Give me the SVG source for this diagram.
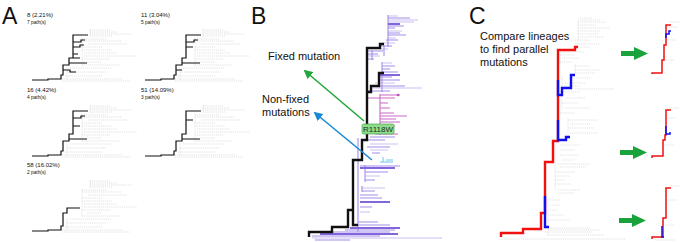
<svg xmlns="http://www.w3.org/2000/svg" xmlns:xlink="http://www.w3.org/1999/xlink" width="685" height="242" viewBox="0 0 685 242">
<style>
text{font-family:"Liberation Sans",Arial,sans-serif;fill:#111}
.big{font-size:23px}
.lab{font-size:6px}
.sub{font-size:4.8px}
.cap{font-size:11px}
.gd{fill:none;stroke:#d4d4d4;stroke-width:0.7;stroke-dasharray:1.2 0.9}
.gv{fill:none;stroke:#dedede;stroke-width:0.5}
.blk{fill:none;stroke:#111;stroke-width:1.2;stroke-linejoin:miter}
.bb{fill:none;stroke:#111;stroke-width:2.4;stroke-linejoin:miter}
.p{fill:none;stroke:#a48ce8;stroke-width:1.1}
.lp{fill:none;stroke:#cdbff3;stroke-width:1.1}
.dp{fill:none;stroke:#8466dc;stroke-width:1.8}
.m{fill:none;stroke:#c76ac6;stroke-width:1.1}
.red{fill:none;stroke:#f01010;stroke-width:2.4;stroke-linejoin:miter}
.blue{fill:none;stroke:#1010ee;stroke-width:2.4;stroke-linejoin:miter}
.sred{fill:none;stroke:#f01010;stroke-width:1.5}
.sblue{fill:none;stroke:#1010ee;stroke-width:1.5}
.garrow{fill:#1aa33a}
</style>
<defs>
<marker id="hg" viewBox="0 0 10 10" refX="8" refY="5" markerWidth="9" markerHeight="9" markerUnits="userSpaceOnUse" orient="auto"><path d="M0,0L10,5L0,10z" fill="#22a83c"/></marker>
<marker id="hb" viewBox="0 0 10 10" refX="8" refY="5" markerWidth="9" markerHeight="9" markerUnits="userSpaceOnUse" orient="auto"><path d="M0,0L10,5L0,10z" fill="#1b8ad6"/></marker>
<g id="treeA">
<path class="gd" d="M58,-50H78M58,-48H85M58,-46H100M58,-44H80M50,-41H75M50,-39H90M56,-36H95M50,-33H70M50,-30H80M52,-27H85M52,-24H105M50,-21H78M55,-18H70M50,-15H88M38,-12H80M35,-8H75M33,-4H70M30,-1H90M30,1H98"/>
<path class="gv" d="M58,-51V-43M50,-42V-14M35,-13V0"/>
</g>
</defs>

<g id="panelA">
<text class="big" x="2" y="24">A</text>
<g id="treeA1">
<text class="lab" x="27" y="17">8 (2.21%)</text>
<text class="sub" x="27" y="24">7 path(s)</text>
<use xlink:href="#treeA" transform="translate(32,80)"/>
<path class="blk" transform="translate(32,80)" d="M0,0H16V-1H29V-5H31V-15H37V-22H41V-45H56M41,-38H49V-40H53M41,-33H48V-35H52M41,-26H46M37,-22H48M37,-17H55M31,-10H38V-8H44"/>
</g>
<g id="treeA2">
<text class="lab" x="141" y="17">11 (3.04%)</text>
<text class="sub" x="141" y="24">5 path(s)</text>
<use xlink:href="#treeA" transform="translate(145,80)"/>
<path class="blk" transform="translate(145,80)" d="M0,0H16V-1H29V-5H31V-15H37V-22H41V-45H56M41,-38H49V-40H53M41,-33H48M37,-17H55M31,-10H37"/>
</g>
<g id="treeA3">
<text class="lab" x="27" y="92">16 (4.42%)</text>
<text class="sub" x="27" y="99">4 path(s)</text>
<use xlink:href="#treeA" transform="translate(32,156)"/>
<path class="blk" transform="translate(32,156)" d="M0,0H16V-1H29V-5H31V-15H37V-22H41V-45H56M41,-38H49V-40H53M37,-17H55M41,-30H48"/>
</g>
<g id="treeA4">
<text class="lab" x="141" y="92">51 (14.09%)</text>
<text class="sub" x="141" y="99">3 path(s)</text>
<use xlink:href="#treeA" transform="translate(145,156)"/>
<path class="blk" transform="translate(145,156)" d="M0,0H16V-1H29V-5H31V-15H37V-22H41V-45H56M41,-36H48M37,-17H55"/>
</g>
<g id="treeA5">
<text class="lab" x="27" y="167">58 (16.02%)</text>
<text class="sub" x="27" y="174">2 path(s)</text>
<use xlink:href="#treeA" transform="translate(32,231)"/>
<path class="blk" transform="translate(32,231)" d="M0,0H16V-1H29V-5H31V-18H35V-23H48"/>
</g>
</g>

<g id="panelB">
<text class="big" x="251" y="24">B</text>
<g id="treeB">
<path class="lp" d="M388,16H398M388,20H418M388,22H414M388,31H402M388,38H396M383,43H395M380,49H388M367,56H380M382,63H392M371,88H422M375,83H395M370,144H398M370,150H388M365,176H380M362,188H385M360,212H370M312,238H442"/>
<path class="p" d="M388,18H410M388,26H404M388,28H395M388,33H400M388,35H406M386,40H398M380,46H392M367,51H383M367,54H378M367,59H374M382,66H395M382,69H390M382,72H398M379,77H392M379,80H400M372,86H405M367,91H390M370,137H395M367,140H385M367,147H390M372,153H380M360,166H400M365,172H388M365,180H375M362,191H375M360,195H378M360,198H382M360,207H372M358,222H378M358,225H390M345,230H395M330,232H390M312,236H380M315,240H350M388,15V47M384,45V56M372,50V60M382,62V92M358,138V232M365,165V182M362,186V192"/>
<path class="dp" d="M388,24H400M379,75H400M360,168H395M360,202H390M350,228H400M320,234H398"/>
<path class="m" d="M380,95H400M367,98H395M380,103H388M380,108H390M380,113H394M380,116H407M380,119H396M380,122H400M380,126H395M380,130H392M375,134H398M380,94V135"/>
<circle cx="398" cy="95" r="1.3" fill="#c050b8"/>
<path fill="none" stroke="#6ec6ea" stroke-width="1" d="M380,162H393M383,157V162M386,160H393"/>
<path class="bb" d="M309,237V232H332V227H348V210H353V160H362V140H367V48H380V44H384M353,210V225H358M367,92H371V86H379V73H384M367,132H375V130H378"/>
</g>
<g id="labelsB">
<text class="cap" x="268" y="60">Fixed mutation</text>
<text class="cap" x="262" y="103">Non-fixed</text>
<text class="cap" x="262" y="116">mutations</text>
</g>
<g id="arrowsB">
<line x1="364" y1="121" x2="305" y2="71" stroke="#22a83c" stroke-width="1.6" marker-end="url(#hg)"/>
<line x1="372" y1="160" x2="315" y2="113" stroke="#1b8ad6" stroke-width="1.6" marker-end="url(#hb)"/>
</g>
<g id="mutR1118W">
<rect x="362" y="124" width="32" height="10" rx="1.5" fill="#8fdc8f" stroke="#4aa64a" stroke-width="0.7"/>
<text x="378" y="132" font-size="8" text-anchor="middle" style="fill:#1a331a">R1118W</text>
</g>
</g>

<g id="panelC">
<text class="big" x="469" y="24">C</text>
<text class="cap" x="480" y="40">Compare lineages</text>
<text class="cap" x="480" y="53">to find parallel</text>
<text class="cap" x="480" y="66">mutations</text>
<g id="treeC">
<path class="gd" d="M580,18H592M580,20H600M578,22H606M578,25H596M578,28H610M578,31H600M578,34H598M578,37H604M575,40H590M575,44H600M578,47H590M560,52H585M560,55H575M562,58H578M560,62H572M575,66H590M575,70H600M575,73H595M570,78H590M565,83H585M562,86H580M575,89H615M560,92H580M565,98H585M562,103H578M565,108H590M560,113H575M568,120H598M570,124H590M568,128H595M570,133H598M560,145H580M560,150H575M560,155H578M562,160H575M558,164H590M560,167H587M555,172H575M555,176H570M555,180H565M555,184H572M558,190H580M558,193H575M548,200H560M550,205H560M550,210H558M548,215H565M548,220H570M545,228H590M548,230H600M545,232H593M548,235H605M502,239H625"/>
<path class="gv" d="M578,18V47M560,50V64M575,64V74M562,75V110M568,118V135M555,140V190M548,198V236"/>
<path class="red" d="M501,237V233H523V229H541V213H545V162H553V141H558V50H575V47H578"/>
<path class="blue" d="M545,196V227H549M558,80V95H562V88H571V75H575M558,120V140H566V137H570"/>
</g>
<g id="arrowsC">
<path class="garrow" d="M621,51H634V47L648,53.5L634,60V56H621z"/>
<path class="garrow" d="M620,150H633V146L647,152.5L633,159V155H620z"/>
<path class="garrow" d="M619,218H632V214L646,220.5L632,227V223H619z"/>
</g>
<g id="lineagesC">
<path class="gd" d="M669,22H680M669,27H678M666,40H676M664,60H674M669,108H679M667,118H676M665,145H674M669,186H679M667,200H677M664,225H674M655,240H675"/>
<path class="sred" d="M652,74V73H662V60H664V45H666V25H671"/>
<path class="sblue" d="M666,38V34H669V31H671"/>
<path class="sred" d="M652,158V156H663V140H665V135H666V110H671"/>
<path class="sblue" d="M666,126V134H670V132"/>
<path class="sred" d="M652,239V237H663V218H666V188H671"/>
<path class="sblue" d="M662,226V237H664"/>
</g>
</g>
</svg>
